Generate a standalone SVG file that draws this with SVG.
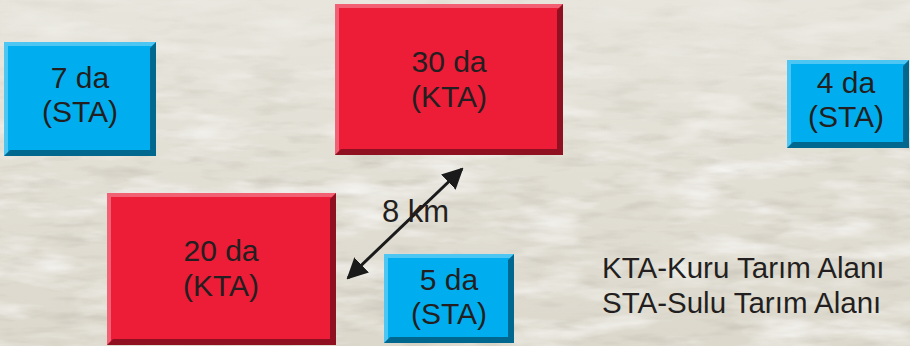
<svg xmlns="http://www.w3.org/2000/svg" width="910" height="346" viewBox="0 0 910 346">
<style>
.lbl{font-family:"Liberation Sans",Arial,sans-serif;font-size:30px;fill:#231f20;text-anchor:middle}
.leg{font-family:"Liberation Sans",Arial,sans-serif;font-size:29.5px;fill:#231f20}
.km{font-family:"Liberation Sans",Arial,sans-serif;font-size:31px;fill:#231f20}
.hi{fill:#ffffff;opacity:0.3}
.sh{fill:#000000;opacity:0.4}
</style>
<defs>
<linearGradient id="bg" x1="0" y1="0" x2="0" y2="1">
<stop offset="0" stop-color="#e7e5dc"/>
<stop offset="0.45" stop-color="#e2dfd5"/>
<stop offset="1" stop-color="#dcd8cc"/>
</linearGradient>
<filter id="tex" x="0" y="0" width="100%" height="100%">
<feTurbulence type="fractalNoise" baseFrequency="0.012 0.05" numOctaves="4" seed="3"/>
<feColorMatrix type="matrix" values="0 0 0 0 1  0 0 0 0 1  0 0 0 0 1  1.6 0 0 0 -0.75"/>
</filter>
<filter id="tex2" x="0" y="0" width="100%" height="100%">
<feTurbulence type="fractalNoise" baseFrequency="0.02 0.09" numOctaves="3" seed="8"/>
<feColorMatrix type="matrix" values="0 0 0 0 0.55  0 0 0 0 0.52  0 0 0 0 0.45  1.4 0 0 0 -0.7"/>
</filter>
<linearGradient id="fade" x1="0" y1="0" x2="0" y2="1">
<stop offset="0" stop-color="#fff" stop-opacity="0.3"/>
<stop offset="0.5" stop-color="#fff" stop-opacity="1"/>
<stop offset="1" stop-color="#fff" stop-opacity="1"/>
</linearGradient>
<mask id="m"><rect width="910" height="346" fill="url(#fade)"/></mask>
<marker id="ah" viewBox="0 0 10 10" refX="9" refY="5" markerWidth="7" markerHeight="7" orient="auto-start-reverse" markerUnits="strokeWidth">
<path d="M0,0 L10,5 L0,10 z" fill="#1a1a1a"/>
</marker>
</defs>
<rect width="910" height="346" fill="url(#bg)"/>
<g mask="url(#m)">
<rect width="910" height="346" filter="url(#tex2)"/>
<rect width="910" height="346" filter="url(#tex)"/>
</g>

<g id="connectors">
<line x1="348" y1="278" x2="462" y2="169" stroke="#1a1a1a" stroke-width="3" marker-start="url(#ah)" marker-end="url(#ah)"/>
<text class="km" x="382" y="222">8 km</text>
</g>

<g id="n7">
<rect x="4" y="42" width="152" height="114" fill="#00aeef"/>
<path class="hi" d="M4,42 H156 L152,46 H8 V152 L4,156 Z"/>
<path class="sh" d="M156,42 V156 H4 L10,150 H150 V48 Z"/>
<text class="lbl" x="80" y="88">7 da</text>
<text class="lbl" x="80" y="122">(STA)</text>
</g>

<g id="n30">
<rect x="335" y="4" width="228" height="151" fill="#ed1c37"/>
<path class="hi" d="M335,4 H563 L559,8 H339 V151 L335,155 Z"/>
<path class="sh" d="M563,4 V155 H335 L341,149 H557 V10 Z"/>
<text class="lbl" x="449" y="72">30 da</text>
<text class="lbl" x="449" y="107">(KTA)</text>
</g>

<g id="n4">
<rect x="787" y="60" width="122" height="88" fill="#00aeef"/>
<path class="hi" d="M787,60 H909 L905,64 H791 V144 L787,148 Z"/>
<path class="sh" d="M909,60 V148 H787 L793,142 H903 V66 Z"/>
<text class="lbl" x="846" y="93">4 da</text>
<text class="lbl" x="846" y="127">(STA)</text>
</g>

<g id="n20">
<rect x="107" y="193" width="229" height="152" fill="#ed1c37"/>
<path class="hi" d="M107,193 H336 L332,197 H111 V341 L107,345 Z"/>
<path class="sh" d="M336,193 V345 H107 L113,339 H330 V199 Z"/>
<text class="lbl" x="221" y="261">20 da</text>
<text class="lbl" x="221" y="296">(KTA)</text>
</g>

<g id="n5">
<rect x="384" y="254" width="130" height="89" fill="#00aeef"/>
<path class="hi" d="M384,254 H514 L510,258 H388 V339 L384,343 Z"/>
<path class="sh" d="M514,254 V343 H384 L390,337 H508 V260 Z"/>
<text class="lbl" x="449" y="290">5 da</text>
<text class="lbl" x="449" y="324">(STA)</text>
</g>

<g id="legend">
<text class="leg" x="602" y="278">KTA-Kuru Tarım Alanı</text>
<text class="leg" x="602" y="313">STA-Sulu Tarım Alanı</text>
</g>
</svg>
